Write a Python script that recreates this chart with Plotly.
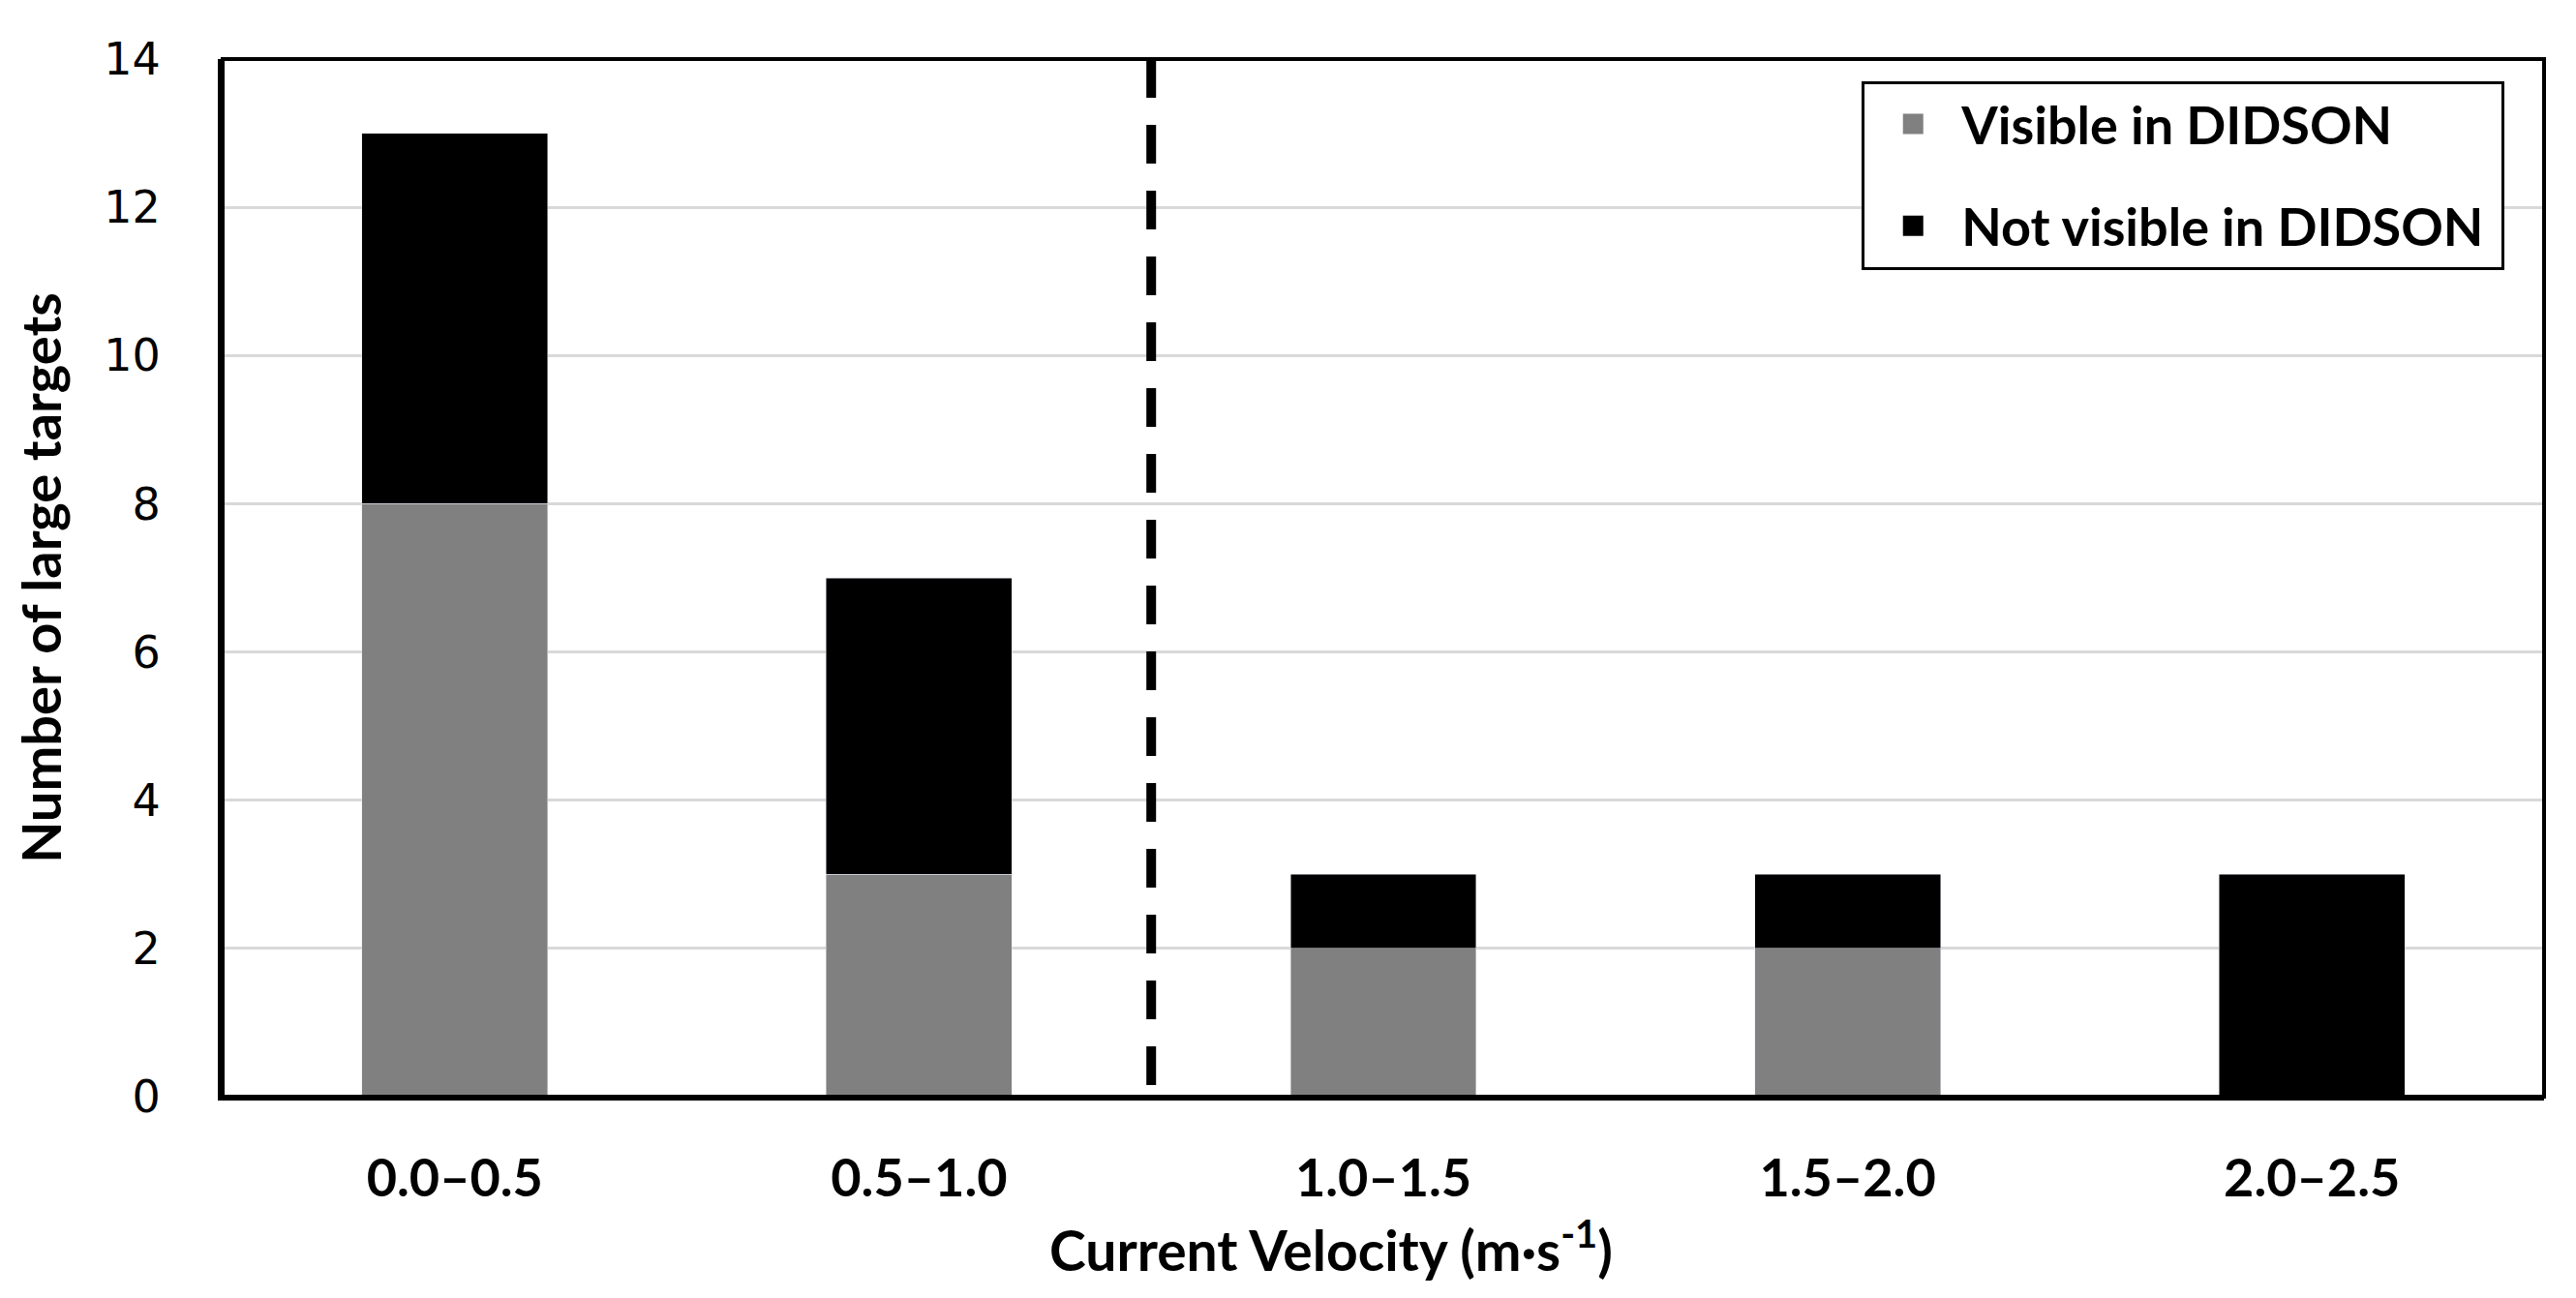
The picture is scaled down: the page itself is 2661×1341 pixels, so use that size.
import plotly.graph_objects as go

# ---- data ----
categories = ["0.0–0.5", "0.5–1.0", "1.0–1.5", "1.5–2.0", "2.0–2.5"]
visible = [8, 3, 2, 2, 0]
not_visible = [5, 4, 1, 1, 3]
series_names = ["Visible in DIDSON", "Not visible in DIDSON"]
y_ticks = [0, 2, 4, 6, 8, 10, 12, 14]
x_title = "Current Velocity (m·s<sup>-1</sup>)"
y_title = "Number of large targets"
threshold_between = (1, 2)  # dashed line between 2nd and 3rd category

GREY = "#808080"
BLACK = "#000000"
LABEL_FONT = "Lato"

fig = go.Figure()
fig.add_trace(go.Bar(x=categories, y=visible, name=series_names[0],
                     marker=dict(color=GREY), width=0.4, showlegend=False))
fig.add_trace(go.Bar(x=categories, y=not_visible, name=series_names[1],
                     marker=dict(color=BLACK), width=0.4, showlegend=False))

# legend-only entries (bigger square symbols)
for name, col, grp in [(series_names[0], GREY, "a"), (series_names[1], BLACK, "b")]:
    fig.add_trace(go.Scatter(x=[None], y=[None], mode="markers", name=name + "\u00a0",
                             legendgroup=grp,
                             marker=dict(symbol="square", size=16, color=col,
                                         line=dict(color=col, width=5))))

thr = sum(threshold_between) / 2
fig.add_shape(type="line", xref="x", yref="paper", x0=thr, x1=thr, y0=1, y1=0,
              line=dict(color=BLACK, width=10, dash="40px,28px"), layer="above")
fig.add_shape(type="rect", xref="paper", yref="paper", x0=0, x1=1, y0=0, y1=1,
              line=dict(color=BLACK, width=4), layer="above")

fig.add_annotation(text=x_title, xref="paper", yref="paper", x=0.4776, y=-0.144,
                   xanchor="center", yanchor="middle", showarrow=False,
                   font=dict(family=LABEL_FONT, size=57, color=BLACK, weight="bold"))

fig.update_layout(
    width=2661, height=1341,
    barmode="stack",
    plot_bgcolor="white", paper_bgcolor="white",
    margin=dict(l=222, r=41, t=53, b=216),
    legend=dict(x=0.983, y=0.979, xanchor="right", yanchor="top",
                bgcolor="white", bordercolor=BLACK, borderwidth=3,
                traceorder="grouped", tracegroupgap=32, itemwidth=90,
                font=dict(family=LABEL_FONT, size=54, color=BLACK, weight="bold"),
                itemsizing="trace"),
    xaxis=dict(
        categoryorder="array", categoryarray=categories,
        range=[-0.5, 4.5], automargin=False,
        showline=True, linecolor=BLACK, linewidth=4,
        showgrid=False, ticks="", ticklabelstandoff=34,
        tickfont=dict(family=LABEL_FONT, size=54, color=BLACK, weight="bold"),
    ),
    yaxis=dict(
        range=[0, 14], tickvals=y_ticks, automargin=False,
        showline=True, linecolor=BLACK, linewidth=5,
        showgrid=True, gridcolor="#d9d9d9", gridwidth=3,
        zeroline=False, ticks="", ticklabelstandoff=50,
        tickfont=dict(family="DejaVu Sans", size=46, color=BLACK),
        title=dict(text=y_title, standoff=40,
                   font=dict(family=LABEL_FONT, size=56, color=BLACK, weight="bold")),
    ),
)

fig.write_html("out.html")
